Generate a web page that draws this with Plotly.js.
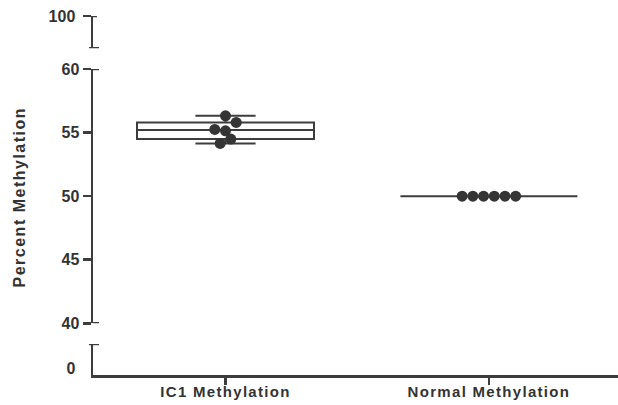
<!DOCTYPE html>
<html>
<head>
<meta charset="utf-8">
<script src="https://cdn.plot.ly/plotly-3.0.1.min.js"></script>
<style>
html,body{margin:0;padding:0;background:#fff;}
#chart{width:618px;height:405px;}
#chart .xtick text{letter-spacing:1.3px;}
#chart .annotation-text{letter-spacing:1.5px;}
</style>
</head>
<body>
<div id="chart"></div>
<script>
// ---- data ----
const categories = ['IC1 Methylation', 'Normal Methylation'];
const ic1Values = [56.32, 55.8, 55.14, 55.25, 54.49, 54.15];
const normalValues = [50, 50, 50, 50, 50, 50];
const mainTicks = [40, 45, 50, 55, 60];
const topTicks = [100];
const bottomTicks = [0];
const yTitle = 'Percent Methylation';

// ---- layout constants ----
const W = 618, H = 405;
const M = {l: 93, r: 0, t: 16, b: 30};
const xRange = [-0.503, 1.49];
const mainRange = [40, 60];
const topRange = [95, 100];
const botRange = [-1, 3.43];
const domBot = [0, 0.0864];
const domMain = [0.144, 0.8524];
const domTop = [0.910, 1];
const ink = '#3d3d3d';
const txt = '#333333';
const family = 'Liberation Sans, Arial, sans-serif';
const font = {family: family, size: 16, color: txt, weight: 'bold'};
const xfont = {family: family, size: 15, color: txt, weight: 'bold'};

// ---- beeswarm offsets (computed from values) ----
const plotW = W - M.l - M.r, plotH = H - M.t - M.b;
const pxPerX = plotW / (xRange[1] - xRange[0]);
const pxPerY = (domMain[1] - domMain[0]) * plotH / (mainRange[1] - mainRange[0]);
const D = 10.7;
function swarm(vals) {
  const placed = [];
  const offs = [];
  vals.forEach(v => {
    const py = v * pxPerY;
    for (let k = 0; k < 40; k++) {
      const step = Math.ceil(k / 2) * (k % 2 === 1 ? 1 : -1);
      const ox = step * D / 2;
      const ok = placed.every(p => Math.hypot(p[0] - ox, p[1] - py) >= 0.85 * D);
      if (ok) { placed.push([ox, py]); offs.push(ox); break; }
    }
  });
  const mean = offs.reduce((a, b) => a + b, 0) / offs.length;
  return offs.map(o => (o - mean) / pxPerX);
}

const groups = [ic1Values, normalValues];
const traces = [];
groups.forEach((vals, i) => {
  traces.push({
    type: 'box', y: vals, x0: i, width: 0.672, whiskerwidth: 0.34,
    quartilemethod: 'exclusive', boxpoints: false,
    fillcolor: '#ffffff', line: {color: ink, width: 2},
    xaxis: 'x', yaxis: 'y2', showlegend: false, hoverinfo: 'skip'
  });
});
groups.forEach((vals, i) => {
  const offs = swarm(vals);
  traces.push({
    type: 'scatter', mode: 'markers',
    x: offs.map(o => i + o), y: vals,
    marker: {size: 11, color: '#353535'},
    xaxis: 'x', yaxis: 'y2', showlegend: false
  });
});

const yCommon = {
  showline: true, linecolor: ink, linewidth: 2.5, showgrid: false, zeroline: false,
  ticks: 'outside', ticklen: 8, tickwidth: 2.5, tickcolor: ink, tickfont: font,
  anchor: 'x', fixedrange: true
};

function cap(yref, y, x0, x1) {
  return {type: 'line', xref: 'paper', xsizemode: 'pixel', xanchor: 0, x0: x0, x1: x1,
          yref: yref, y0: y, y1: y, line: {color: ink, width: 2.5}};
}

const layout = {
  width: W, height: H, margin: M,
  paper_bgcolor: '#fff', plot_bgcolor: '#fff',
  xaxis: {
    range: xRange, domain: [0, 1], anchor: 'y',
    tickvals: categories.map((c, i) => i), ticktext: categories,
    showline: true, linecolor: ink, linewidth: 2.5, showgrid: false, zeroline: false,
    ticks: 'outside', ticklen: 7, tickwidth: 2.5, tickcolor: ink, tickfont: xfont,
    ticklabelstandoff: -6
  },
  yaxis: Object.assign({}, yCommon, {domain: domBot, range: botRange, tickvals: bottomTicks,
    ticklen: 12, tickcolor: 'rgba(0,0,0,0)'}),
  yaxis2: Object.assign({}, yCommon, {domain: domMain, range: mainRange, tickvals: mainTicks}),
  yaxis3: Object.assign({}, yCommon, {domain: domTop, range: topRange, tickvals: topTicks,
    ticklabelstandoff: 4}),
  shapes: [
    cap('y', botRange[1], -4, 6),
    cap('y2', mainRange[0], 0, 6),
    cap('y2', mainRange[1], 0, 6),
    cap('y3', topRange[0], -4, 6),
    cap('y3', topRange[1], 0, 4)
  ],
  annotations: [{
    text: yTitle, textangle: -90, showarrow: false,
    xref: 'paper', yref: 'paper',
    x: (19 - M.l) / plotW, y: (domMain[0] + domMain[1]) / 2 - 0.003,
    xanchor: 'center', yanchor: 'middle', font: font
  }]
};

Plotly.newPlot('chart', traces, layout, {displayModeBar: false, staticPlot: true});
</script>
</body>
</html>
